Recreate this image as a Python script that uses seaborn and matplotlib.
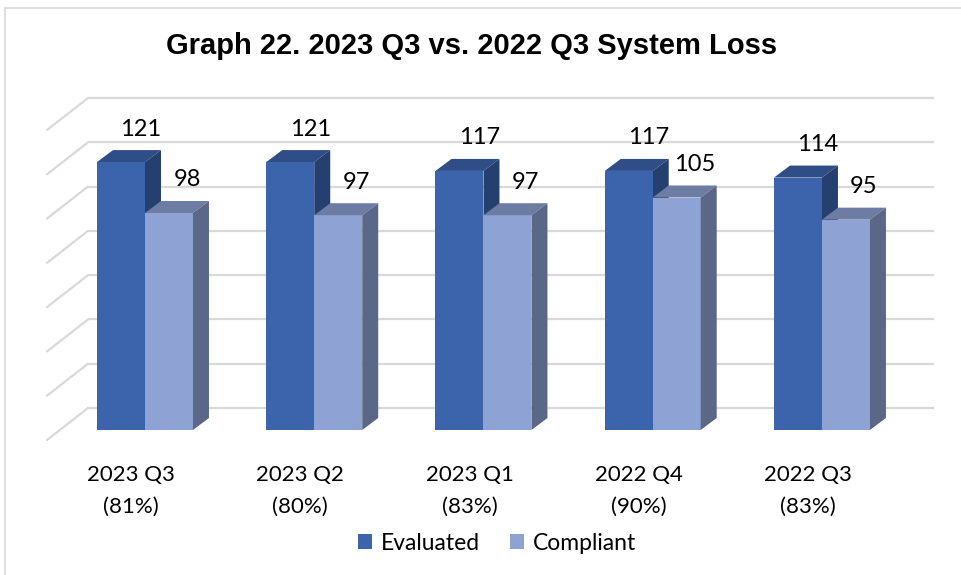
import matplotlib
matplotlib.use("Agg")
import matplotlib.pyplot as plt
import matplotlib.transforms as mtransforms
from matplotlib.patches import Polygon, Patch, Rectangle
import pandas as pd
import seaborn as sns

# chart data
quarters = ["2023 Q3", "2023 Q2", "2023 Q1", "2022 Q4", "2022 Q3"]
compliance_pct = ["81%", "80%", "83%", "90%", "83%"]
evaluated = [121, 121, 117, 117, 114]
compliant = [98, 97, 97, 105, 95]
series_names = ["Evaluated", "Compliant"]
y_ticks = [0, 20, 40, 60, 80, 100, 120, 140]

front_colors = ["#3B64AD", "#8FA2D4"]
top_colors = ["#2F4D87", "#6C7CA3"]
side_colors = ["#253F6F", "#5B6787"]
grid_color = "#D9D9D9"

df = pd.DataFrame({
    "quarter": quarters * 2,
    "series": [series_names[0]] * len(quarters) + [series_names[1]] * len(quarters),
    "count": evaluated + compliant,
})

sns.set_style("white")
plt.rcParams["font.family"] = ["Lato", "DejaVu Sans"]
plt.rcParams["text.color"] = "black"

W, H, DPI = 962, 575, 100
fig = plt.figure(figsize=(W / DPI, H / DPI), dpi=DPI)
ax_left, ax_right, ax_bottom, ax_top = 47, 934, 430, 120
ax = fig.add_axes([ax_left / W, (H - ax_bottom) / H,
                   (ax_right - ax_left) / W, (ax_bottom - ax_top) / H])

sns.barplot(data=df, x="quarter", y="count", hue="series", palette=front_colors,
            width=0.567, saturation=1, linewidth=0, ax=ax, legend=False, zorder=1)

x0, x1 = -0.579, 4.662
ax.set_xlim(x0, x1)
ax.set_ylim(0, 140)
ppx = (ax_right - ax_left) / (x1 - x0)
ppy = (ax_bottom - ax_top) / 140

# back wall grid + side wall diagonals
wall_dx, wall_dy, front_drop = 41, 22, 10
back = ax.transData + mtransforms.ScaledTranslation(0, wall_dy / DPI, fig.dpi_scale_trans)
ax.hlines(y_ticks, x0 + wall_dx / ppx, x1, colors=grid_color, lw=1.6,
          transform=back, clip_on=False, zorder=0.5)
for v in y_ticks:
    ax.plot([x0, x0 + wall_dx / ppx], [v - front_drop / ppy, v + wall_dy / ppy],
            color=grid_color, lw=1.6, clip_on=False, zorder=0.5)

# fake 3D tops and sides
dx, dy = 16, 12
ident = mtransforms.IdentityTransform()
label_dx = [20, 18]
for k, cont in enumerate(ax.containers):
    for bar in cont:
        (xa, ya), (xb, yb) = ax.transData.transform(
            [(bar.get_x(), 0), (bar.get_x() + bar.get_width(), bar.get_height())])
        z = 0.8 if k == 0 else 1.2
        top = Polygon([(xa, yb), (xb, yb), (xb + dx, yb + dy), (xa + dx, yb + dy)],
                      closed=True, facecolor=top_colors[k], edgecolor="none",
                      transform=ident, clip_on=False, zorder=z)
        side = Polygon([(xb, ya), (xb + dx, ya + dy), (xb + dx, yb + dy), (xb, yb)],
                       closed=True, facecolor=side_colors[k], edgecolor="none",
                       transform=ident, clip_on=False, zorder=z)
        ax.add_patch(top)
        ax.add_patch(side)
        ax.annotate(f"{bar.get_height():.0f}",
                    xy=(bar.get_x() + bar.get_width() / 2, bar.get_height()),
                    xytext=(label_dx[k], 33), textcoords="offset pixels",
                    ha="center", va="center", fontsize=17, color="black")

ax.set_xticks(range(len(quarters)))
ax.set_xticklabels([f"{q}\n({p})" for q, p in zip(quarters, compliance_pct)])
ax.tick_params(axis="x", length=0, pad=25, labelsize=16, colors="black")
shift = mtransforms.ScaledTranslation(-14 / DPI, 0, fig.dpi_scale_trans)
for lab in ax.get_xticklabels():
    lab.set_linespacing(1.75)
    lab.set_transform(lab.get_transform() + shift)
ax.set_yticks([])
ax.set_xlabel("")
ax.set_ylabel("")
for s in ax.spines.values():
    s.set_visible(False)
ax.patch.set_alpha(0)

handles = [Patch(facecolor=c, edgecolor="none") for c in front_colors]
fig.legend(handles=handles, labels=series_names, loc="center",
           bbox_to_anchor=(497 / W, 1 - 543 / H), ncol=2, frameon=False,
           fontsize=16.5, handlelength=0.62, handleheight=0.6,
           handletextpad=0.4, columnspacing=1.3, labelcolor="black")

fig.text(472 / W, 1 - 46 / H, "Graph 22. 2023 Q3 vs. 2022 Q3 System Loss",
         ha="center", va="center", fontsize=21, fontweight="bold", color="black",
         family=["Liberation Sans", "DejaVu Sans"])

fig.add_artist(Rectangle((5 / W, -0.1), 1.2, 1.1 - 8 / H, transform=fig.transFigure,
                         fill=False, edgecolor=grid_color, lw=1.2))

fig.savefig("out.png", dpi=DPI)
